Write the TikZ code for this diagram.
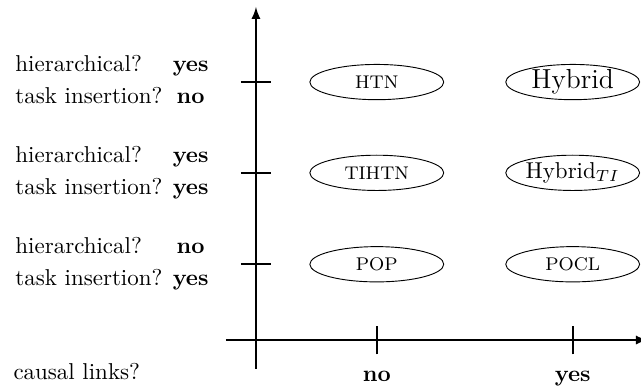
\documentclass[tikz,border=0pt]{standalone}
\usepackage{amsmath}
\usepackage{xcolor}
\usepackage{tikz}
\usetikzlibrary{arrows}
\usetikzlibrary{shapes.geometric}
\usetikzlibrary{positioning}

\begin{document}
\begin{tikzpicture}[>=latex]
        \tikzstyle{axis}=[thick,->]
        \tikzstyle{tick}=[thick]
        \tikzstyle{planner}=[ellipse,draw,inner sep=0pt,minimum width=2.05cm,minimum height=0.54cm]
        \tikzstyle{question}=[inner sep=0pt,anchor=west]
        \tikzstyle{answer}=[inner sep=0pt,anchor=base,font=\bfseries]
        \useasboundingbox (-3.92,-0.735) rectangle (5.896,5.207);
        % axes
        \coordinate (xstart) at (-0.46,0);
        \coordinate (xend) at (6,0);
        \coordinate (ystart) at (0,-0.44);
        \coordinate (yend) at (0,5.1);
        \draw[axis] (xstart) -- (xend);
        \draw[axis] (ystart) -- (yend);
        % rows and columns
        \coordinate (rowhtn) at (0,3.95);
        \coordinate (rowti) at (0,2.56);
        \coordinate (rowpop) at (0,1.16);
        \coordinate (colno) at (1.85,0);
        \coordinate (colyes) at (4.85,0);
        \draw[tick] ([xshift=-0.23cm]rowhtn) -- ([xshift=0.23cm]rowhtn);
        \draw[tick] ([xshift=-0.23cm]rowti) -- ([xshift=0.23cm]rowti);
        \draw[tick] ([xshift=-0.23cm]rowpop) -- ([xshift=0.23cm]rowpop);
        \draw[tick] ([yshift=-0.22cm]colno) -- ([yshift=0.22cm]colno);
        \draw[tick] ([yshift=-0.22cm]colyes) -- ([yshift=0.22cm]colyes);
        % planners
        \node[planner,font=\footnotesize] (htn) at (colno |- rowhtn) {HTN};
        \node[planner,font=\large] (hybrid) at (colyes |- rowhtn) {Hybrid};
        \node[planner,font=\footnotesize] (tihtn) at (colno |- rowti) {TIHTN};
        \node[planner] (hybridti) at (colyes |- rowti) {Hybrid$_{TI}$};
        \node[planner,font=\footnotesize] (pop) at (colno |- rowpop) {POP};
        \node[planner,font=\footnotesize] (pocl) at (colyes |- rowpop) {POCL};
        % questions
        \node[question] (qhtn) at (-3.69,3.95) {\begin{tabular}{@{}l@{\hspace{4.5pt}}c@{}}
            hierarchical? & \textbf{yes}\\[2pt]
            task insertion? & \textbf{no}
          \end{tabular}};
        \node[question] (qti) at (-3.69,2.56) {\begin{tabular}{@{}l@{\hspace{4.5pt}}c@{}}
            hierarchical? & \textbf{yes}\\[2pt]
            task insertion? & \textbf{yes}
          \end{tabular}};
        \node[question] (qpop) at (-3.69,1.16) {\begin{tabular}{@{}l@{\hspace{4.5pt}}c@{}}
            hierarchical? & \textbf{no}\\[2pt]
            task insertion? & \textbf{yes}
          \end{tabular}};
        \node[question,anchor=base west] (qcausal) at (-3.72,-0.6) {causal links?};
        \node[answer] (ano) at ([yshift=-0.64cm]colno) {no};
        \node[answer] (ayes) at ([yshift=-0.64cm]colyes) {yes};
      \end{tikzpicture}
\end{document}
